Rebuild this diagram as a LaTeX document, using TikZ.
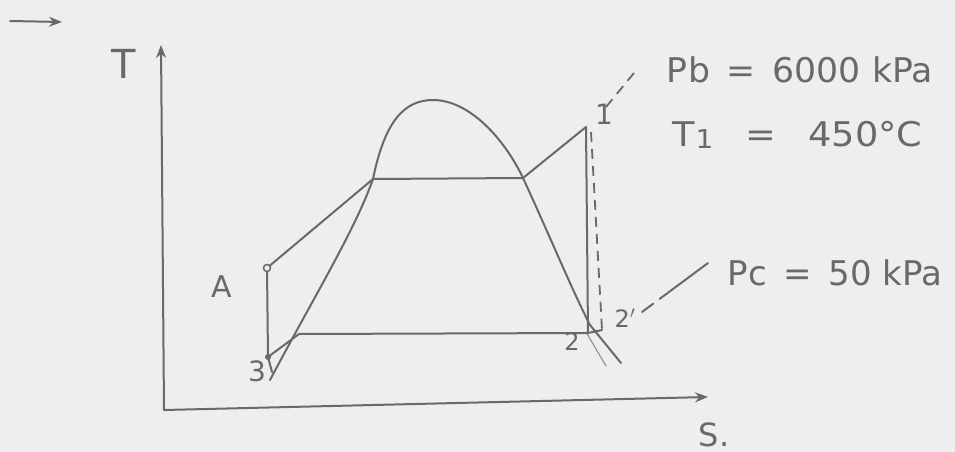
\documentclass[tikz,border=0pt]{standalone}
\usepackage{fontspec}
\setmainfont{DejaVu Sans}
\usetikzlibrary{arrows.meta}
\definecolor{pencil}{RGB}{105,105,108}
\definecolor{paper}{RGB}{238,238,240}
\tikzset{
  pline/.style={draw=pencil, line width=2pt, line cap=round, line join=round},
  thin pline/.style={draw=pencil!70, line width=1.2pt, line cap=round},
  dashline/.style={draw=pencil, line width=1.8pt, dash pattern=on 10pt off 7pt},
  lbl/.style={text=pencil, inner sep=0pt, font=\fontsize{28}{32}\selectfont},
  big/.style={text=pencil, inner sep=0pt, anchor=base west, font=\fontsize{34}{40}\selectfont},
  axisarrow/.style={pline, -{Stealth[length=13pt,width=10pt]}}
}
\begin{document}
\begin{tikzpicture}[x=1pt,y=-1pt]
\fill[paper] (0,0) rectangle (955,452);
\useasboundingbox (0,0) rectangle (955,452);

% small mark at top left
\coordinate (m1) at (10,21);
\coordinate (m2) at (62,22);
\draw[axisarrow] (m1) -- (m2);

% axes
\coordinate (O) at (164,410);
\coordinate (Ttop) at (161,45);
\coordinate (Send) at (708,397);
\draw[axisarrow] (O) -- (Ttop);
\draw[axisarrow] (O) -- (Send);
\node[lbl, font=\fontsize{40}{46}\selectfont] (Tlab) at (124,64) {T};
\node[lbl, anchor=base, font=\fontsize{32}{38}\selectfont] (Slab) at (714,446) {S.};

% cycle points
\coordinate (p3) at (268,357);
\coordinate (pA) at (267,268);
\coordinate (pf) at (373,179);
\coordinate (pg) at (523,178);
\coordinate (p1) at (586,127);
\coordinate (p2) at (588,333);
\coordinate (p2s) at (602,330);
\coordinate (pl) at (299,334);
\coordinate (dtop) at (433,100);
\coordinate (dL) at (270,380);
\coordinate (dR) at (590,325);
\coordinate (dE) at (621,363);

% saturation dome
\draw[pline] (dL) .. controls (315,295) and (355,230) .. (pf)
  .. controls (385,120) and (405,100) .. (dtop)
  .. controls (470,100) and (505,140) .. (pg)
  .. controls (548,232) and (572,290) .. (dR) -- (dE);
\draw[thin pline] (586,332) -- (606,366);

\draw[pline] (p3) -- (pA) -- (pf) -- (pg) -- (p1) -- (p2) -- (pl) -- (p3);
\draw[pline] (p3) -- (272,372);
\draw[dashline] (591,132) -- (p2s);
\draw[pline] (p2) -- (p2s);
\fill[pencil] (p3) circle (3pt);
\draw[pencil, line width=1.5pt, fill=paper] (pA) circle (3.5pt);

% point labels
\node[lbl] (l1) at (604,114) {1};
\node[lbl, font=\fontsize{24}{28}\selectfont] (l2) at (572,342) {2};
\node[lbl, font=\fontsize{24}{28}\selectfont] (l2s) at (625,318) {2$'$};
\node[lbl] (l3) at (257,371) {3};
\node[lbl, font=\fontsize{30}{34}\selectfont] (lA) at (222,287) {A};

% leader lines
\coordinate (b1) at (606,107);
\coordinate (b2) at (634,73);
\draw[dashline] (b1) -- (b2);
\coordinate (c1) at (642,312);
\coordinate (c2) at (708,263);
\draw[pline, dash pattern=on 14pt off 8pt on 60pt] (c1) -- (c2);

% condition text
\node[big] (Pb) at (666,82) {\scalebox{1.02}[1]{P\kern1pt b \,=\, 6000 kPa}};
\node[big] (T1) at (672,146) {\scalebox{1.08}[1]{T\kern1pt\raisebox{-2pt}{\fontsize{26}{30}\selectfont 1} \;\;=\;\; 450°C}};
\node[big] (Pc) at (727,285) {P\kern1pt c \,=\, 50 kPa};
\end{tikzpicture}
\end{document}
